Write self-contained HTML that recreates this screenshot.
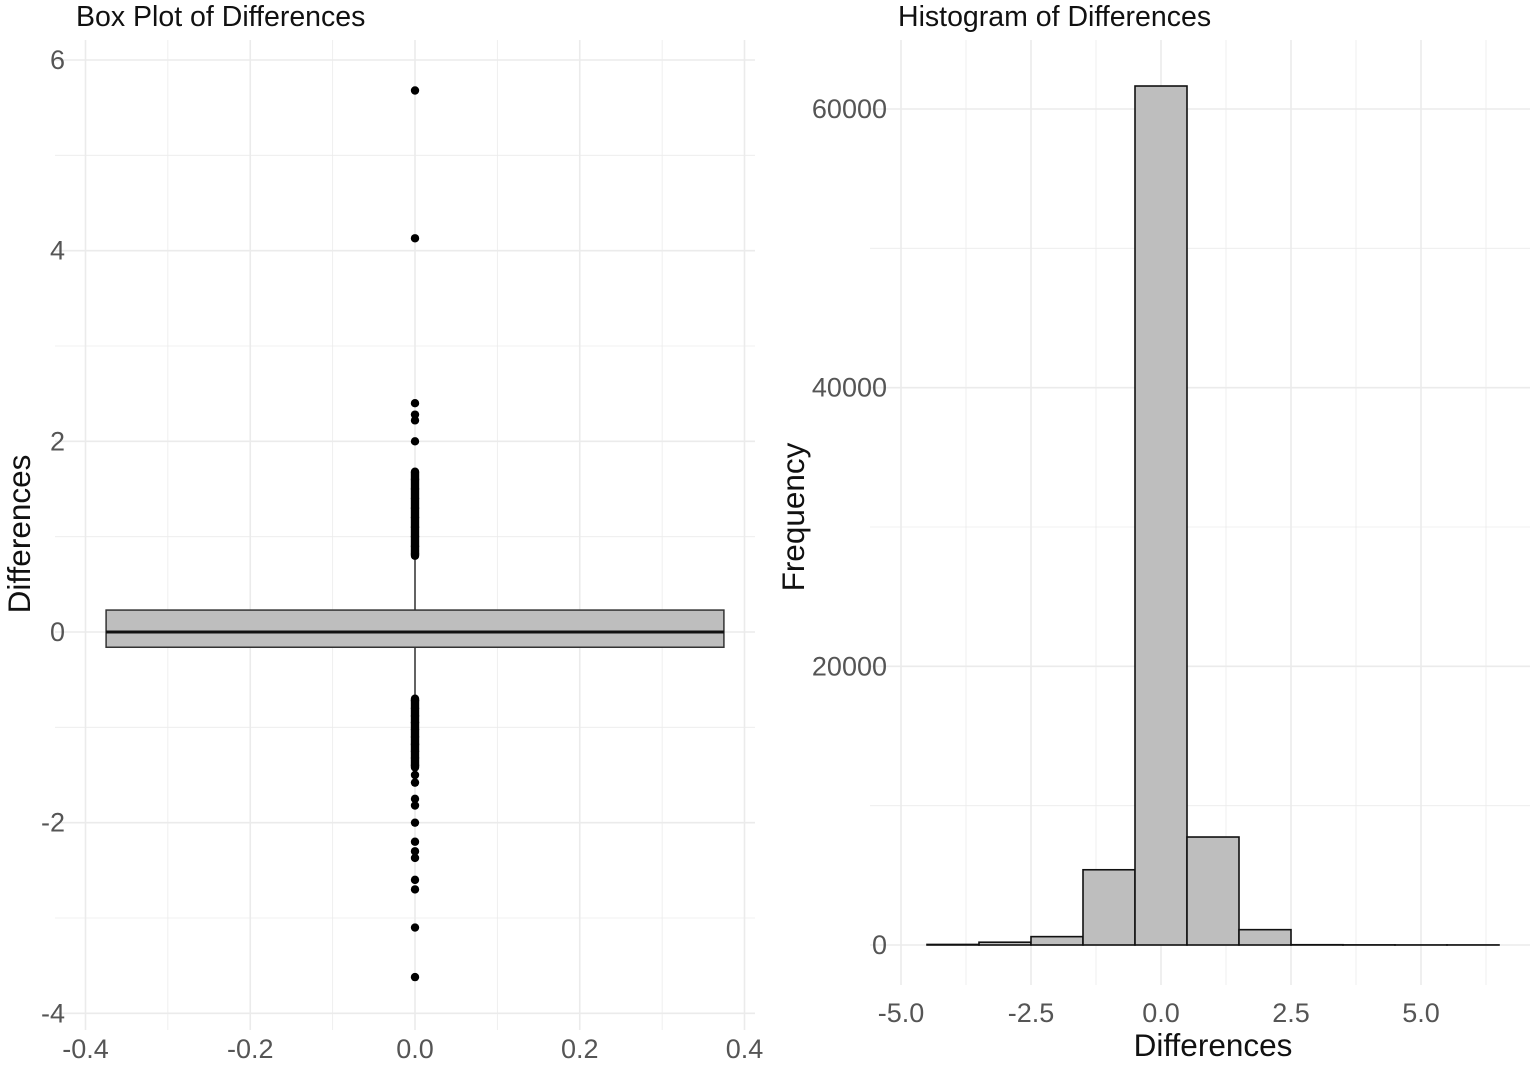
<!DOCTYPE html>
<html><head><meta charset="utf-8">
<style>
body{margin:0;background:#fff;}
svg{display:block;font-family:"Liberation Sans",sans-serif;}
.tick{fill:#555;font-size:27px;}
</style></head>
<body>
<svg id="chart" width="1535" height="1065" viewBox="0 0 1535 1065"></svg>
<script>
// Box plot data
const boxStats = {q1:-0.16, median:0, q3:0.23, whiskLow:-0.7, whiskHigh:0.8};
const outliers = [5.68,4.13,2.4,2.28,2.22,2.0,1.68,1.6,1.5,1.4,1.3,1.2,1.1,1.0,0.9,0.82,
  -0.72,-0.8,-0.88,-0.95,-1.02,-1.1,-1.18,-1.25,-1.32,-1.4,-1.5,-1.58,-1.75,-1.82,-2.0,-2.2,-2.3,-2.37,-2.6,-2.7,-3.1,-3.62];
const boxXTicks = [-0.4,-0.2,0.0,0.2,0.4];
const boxYTicks = [-4,-2,0,2,4,6];
// Histogram data
const binCenters = [-4,-3,-2,-1,0,1,2,3,4,5,6];
const binCounts = [40,200,600,5400,61650,7750,1100,20,10,5,5];
const histXTicks = [-5.0,-2.5,0.0,2.5,5.0];
const histYTicks = [0,20000,40000,60000];

const svg = document.getElementById('chart');
const NS = 'http://www.w3.org/2000/svg';
function mk(tag, attrs, parent){const e=document.createElementNS(NS,tag);for(const k in attrs)e.setAttribute(k,attrs[k]);(parent||svg).appendChild(e);return e;}

const bx = v => 415 + v*(744-85)/0.8;
const by = v => 632 - v*(632-60)/6;
const L = {x0:55,x1:755,y0:40,y1:1030};
for(let v=-0.5;v<=0.5;v+=0.1){const x=bx(v);if(x<L.x0||x>L.x1)continue;const g=mk('line',{x1:x,x2:x,y1:L.y0,y2:L.y1,stroke:'#ebebeb','stroke-width':Math.abs(Math.round(v*10))%2===0?1.6:0.8});}
for(let v=-5;v<=7;v+=1){const y=by(v);if(y<L.y0||y>L.y1)continue;const g=mk('line',{x1:L.x0,x2:L.x1,y1:y,y2:y,stroke:'#ebebeb','stroke-width':v%2===0?1.6:0.8});}
boxXTicks.forEach(v=>{const t=mk('text',{x:bx(v),y:1058,'text-anchor':'middle',class:'tick'});t.textContent=v.toFixed(1);});
boxYTicks.forEach(v=>{const t=mk('text',{x:65,y:by(v)+9,'text-anchor':'end',class:'tick'});t.textContent=v;});
let w=mk('line',{x1:bx(0),x2:bx(0),y1:by(boxStats.whiskHigh),y2:by(boxStats.q3),stroke:'#333','stroke-width':1.5});

w=mk('line',{x1:bx(0),x2:bx(0),y1:by(boxStats.q1),y2:by(boxStats.whiskLow),stroke:'#333','stroke-width':1.5});

const box=mk('rect',{x:bx(-0.375),y:by(boxStats.q3),width:bx(0.375)-bx(-0.375),height:by(boxStats.q1)-by(boxStats.q3),fill:'#bebebe',stroke:'#333','stroke-width':1.5});

const med=mk('line',{x1:bx(-0.375),x2:bx(0.375),y1:by(boxStats.median),y2:by(boxStats.median),stroke:'#111','stroke-width':3});

outliers.forEach(v=>{const c=mk('circle',{cx:bx(0),cy:by(v),r:4.2,fill:'#000'});});
[[0.8,1.68],[-0.7,-1.42]].forEach(s=>{const r=mk('line',{x1:bx(0),x2:bx(0),y1:by(s[0]),y2:by(s[1]),stroke:'#000','stroke-width':8.4,'stroke-linecap':'round'});});
let t=mk('text',{x:76,y:26,'font-size':28.5,fill:'#111'});t.textContent='Box Plot of Differences';
t=mk('text',{x:30,y:534,'font-size':31.5,fill:'#111','text-anchor':'middle',transform:'rotate(-90 30 534)'});t.textContent='Differences';

const hx = v => 1161 + v*52;
const hy = v => 945 - v*(945-109)/60000;
const R = {x0:870,x1:1530,y0:40,y1:985};
for(let v=-6.25;v<=7;v+=1.25){const x=hx(v);if(x<R.x0||x>R.x1)continue;const g=mk('line',{x1:x,x2:x,y1:R.y0,y2:R.y1,stroke:'#ebebeb','stroke-width':Math.round(v/1.25)%2===0?1.6:0.8});}
for(let v=-10000;v<=70000;v+=10000){const y=hy(v);if(y<R.y0||y>R.y1)continue;const g=mk('line',{x1:R.x0,x2:R.x1,y1:y,y2:y,stroke:'#ebebeb','stroke-width':(v/10000)%2===0?1.6:0.8});}
histXTicks.forEach(v=>{const t=mk('text',{x:hx(v),y:1022,'text-anchor':'middle',class:'tick'});t.textContent=v.toFixed(1);});
histYTicks.forEach(v=>{const t=mk('text',{x:887,y:hy(v)+9,'text-anchor':'end',class:'tick'});t.textContent=v;});
binCenters.forEach((c,i)=>{const y=hy(binCounts[i]);const r=mk('rect',{x:hx(c-0.5),y:y,width:52,height:Math.max(hy(0)-y,0),fill:'#bebebe',stroke:'#111','stroke-width':1.6});});
t=mk('text',{x:898,y:26,'font-size':28.5,fill:'#111'});t.textContent='Histogram of Differences';
t=mk('text',{x:1213,y:1056,'font-size':31.5,fill:'#111','text-anchor':'middle'});t.textContent='Differences';
t=mk('text',{x:804,y:517,'font-size':31.5,fill:'#111','text-anchor':'middle',transform:'rotate(-90 804 517)'});t.textContent='Frequency';
</script>
</body></html>
